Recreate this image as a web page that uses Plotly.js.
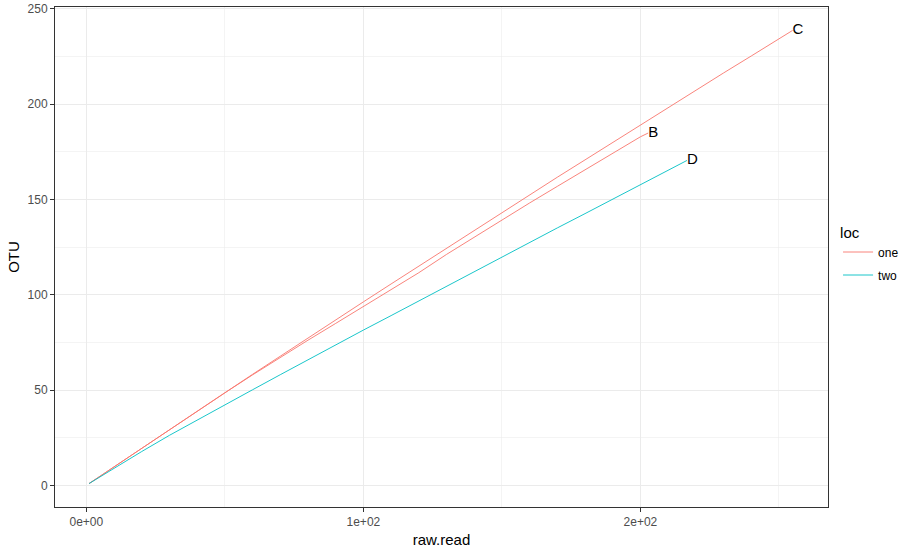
<!DOCTYPE html>
<html>
<head>
<meta charset="utf-8">
<script src="https://cdn.plot.ly/plotly-3.0.1.min.js"></script>
<style>html,body{margin:0;padding:0;background:#fff;}#chart{width:913px;height:551px;}</style>
</head>
<body>
<div id="chart"></div>
<script>
// Sample C (loc one)
const xC = [1,10,20,30,40,50,60,70,80,90,100,110,120,130,140,150,160,170,180,190,200,210,220,230,240,250,254.9];
const yC = [1,9.8,19.5,29.3,38.9,48.7,58.3,67.8,77.4,86.9,96.3,105.7,115.1,124.5,133.8,143.2,152.4,161.7,170.8,180.0,189.1,198.2,207.3,216.4,225.3,234.6,238.7];
// Sample B (loc one)
const xB = [1,10,20,30,40,50,60,70,80,90,100,110,120,130,140,150,160,170,180,190,200,202.8];
const yB = [1,9.8,19.5,29.3,38.9,48.6,58.0,67.2,76.2,85.0,93.9,102.8,111.6,121.2,130.3,139.4,148.2,156.9,165.6,174.3,182.9,184.9];
// Sample D (loc two)
const xD = [1,10,20,30,40,50,60,70,80,90,100,110,120,130,140,150,160,170,180,190,200,210,216.8];
const yD = [1,9.0,17.8,26.3,34.4,42.3,50.2,58.1,66.0,73.8,81.5,89.1,96.8,104.5,112.3,120.0,127.6,135.1,142.6,150.2,157.8,165.4,170.5];

const sampleNames = ["C","B","D"];
const locNames = ["one","two"];
const xTickVals = [0,100,200];
const xTickText = ["0e+00","1e+02","2e+02"];
const yTickVals = [0,50,100,150,200,250];
const yTickText = ["0","50","100","150","200","250"];

const colOne = "#F8766D", colTwo = "#00BFC4";
const series = [
  {x:xC, y:yC, name:sampleNames[0], loc:locNames[0], color:colOne, show:true},
  {x:xB, y:yB, name:sampleNames[1], loc:locNames[0], color:colOne, show:false},
  {x:xD, y:yD, name:sampleNames[2], loc:locNames[1], color:colTwo, show:true}
];

const traces = series.map(s => ({
  type:"scatter", mode:"lines", x:s.x, y:s.y,
  name:s.loc, legendgroup:s.loc, showlegend:s.show,
  line:{color:s.color, width:0.9},
  hoverinfo:"skip"
}));
series.forEach(s => {
  traces.push({
    type:"scatter", mode:"text",
    x:[s.x[s.x.length-1]], y:[s.y[s.y.length-1]],
    text:[s.name], textposition:"middle right",
    textfont:{family:"Liberation Sans, Arial, sans-serif", size:15, color:"#000000"},
    showlegend:false, hoverinfo:"skip"
  });
});

const tickFont = {family:"Liberation Sans, Arial, sans-serif", size:12, color:"#4D4D4D"};
const titleFont = {family:"Liberation Sans, Arial, sans-serif", size:15, color:"#000000"};

const layout = {
  width:913, height:551,
  paper_bgcolor:"#ffffff", plot_bgcolor:"#ffffff",
  margin:{l:55, r:85, t:7, b:44},
  showlegend:true,
  xaxis:{
    range:[-11.3, 267.7], tickvals:xTickVals, ticktext:xTickText,
    tickfont:tickFont, ticks:"outside", ticklen:4, tickcolor:"#333333", tickwidth:1,
    showgrid:true, gridcolor:"#EBEBEB", gridwidth:1.1,
    minor:{dtick:50, tick0:0, showgrid:true, gridcolor:"#EBEBEB", gridwidth:0.55, ticks:""},
    zeroline:false, showline:true, mirror:true, linecolor:"#333333", linewidth:1,
    title:{text:"raw.read", font:titleFont, standoff:6}
  },
  yaxis:{
    range:[-11.3, 251], tickvals:yTickVals, ticktext:yTickText,
    tickfont:tickFont, ticks:"outside", ticklen:4, tickcolor:"#333333", tickwidth:1,
    showgrid:true, gridcolor:"#EBEBEB", gridwidth:1.1,
    minor:{dtick:25, tick0:0, showgrid:true, gridcolor:"#EBEBEB", gridwidth:0.55, ticks:""},
    zeroline:false, showline:true, mirror:true, linecolor:"#333333", linewidth:1,
    title:{text:"OTU", font:titleFont, standoff:4}
  },
  legend:{
    x:1.013, xanchor:"left", y:0.578, yanchor:"top",
    title:{text:"loc", font:{family:"Liberation Sans, Arial, sans-serif", size:15, color:"#000000"}},
    font:{family:"Liberation Sans, Arial, sans-serif", size:12, color:"#000000"},
    itemwidth:30, tracegroupgap:4, bgcolor:"rgba(0,0,0,0)"
  }
};

Plotly.newPlot("chart", traces, layout, {displayModeBar:false, staticPlot:true});
</script>
</body>
</html>
